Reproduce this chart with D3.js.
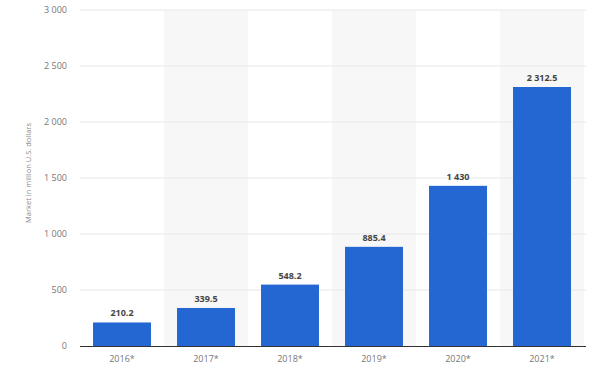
<!DOCTYPE html>
<html><head><meta charset="utf-8">
<script src="https://cdn.jsdelivr.net/npm/d3@7"></script>
<style>body{margin:0;background:#fff;} svg{display:block;font-family:"Open Sans",sans-serif;}</style>
</head><body><svg id="c" width="592" height="369"></svg>
<script>
const categories = ["2016*","2017*","2018*","2019*","2020*","2021*"];
const values = [210.2, 339.5, 548.2, 885.4, 1430, 2312.5];
const valueLabels = ["210.2","339.5","548.2","885.4","1 430","2 312.5"];
const yTicks = [0,500,1000,1500,2000,2500,3000];
const yTitle = "Market in million U.S. dollars";

(function(){
const svg = d3.select("#c");
const mL = 80, mR = 584, mT = 10, mB = 346;
const x = d3.scaleBand().domain(categories).range([mL, mR]).paddingInner(0.31).paddingOuter(0.155);
const xb = d3.scaleBand().domain(categories).range([mL, mR]);
const y = d3.scaleLinear().domain([0,3000]).range([mB, mT]);
const fmt = v => d3.format(",")(v).replace(/,/g, " ");

svg.selectAll("rect.bg").data(categories.filter((d,i)=>i%2===1)).enter().append("rect")
  .attr("x", d=>xb(d)).attr("width", xb.bandwidth()).attr("y", mT).attr("height", mB-mT)
  .attr("fill", "#f7f7f7");

svg.selectAll("line.grid").data(yTicks.filter(t=>t>0)).enter().append("line")
  .attr("x1", mL).attr("x2", mR+2).attr("y1", d=>y(d)).attr("y2", d=>y(d))
  .attr("stroke", "#e8e8e8").attr("stroke-width", 1);

svg.selectAll("text.yt").data(yTicks).enter().append("text")
  .attr("x", 67).attr("y", d=>y(d)+3).attr("text-anchor","end")
  .attr("font-size", 9).attr("fill", "#777").text(d=>fmt(d));

svg.append("text").attr("transform", `translate(31,${(mT+mB)/2-5}) rotate(-90)`)
  .attr("text-anchor","middle").attr("font-size", 7.5).attr("fill","#888").text(yTitle);

svg.selectAll("rect.bar").data(values).enter().append("rect")
  .attr("x", (d,i)=>x(categories[i])).attr("width", x.bandwidth())
  .attr("y", d=>y(d)).attr("height", d=>mB-y(d)).attr("fill", "#2467d3");

svg.selectAll("text.vl").data(values).enter().append("text")
  .attr("x", (d,i)=>x(categories[i])+x.bandwidth()/2).attr("y", d=>y(d)-6)
  .attr("text-anchor","middle").attr("font-size", 9).attr("font-weight","bold")
  .attr("fill","#444").text((d,i)=>valueLabels[i]);

svg.append("line").attr("x1", mL).attr("x2", mR+2).attr("y1", mB+0.5).attr("y2", mB+0.5)
  .attr("stroke", "#333").attr("stroke-width", 1);

svg.selectAll("text.xt").data(categories).enter().append("text")
  .attr("x", d=>xb(d)+xb.bandwidth()/2).attr("y", 362).attr("text-anchor","middle")
  .attr("font-size", 9).attr("fill","#777").text(d=>d);
})();
</script></body></html>
